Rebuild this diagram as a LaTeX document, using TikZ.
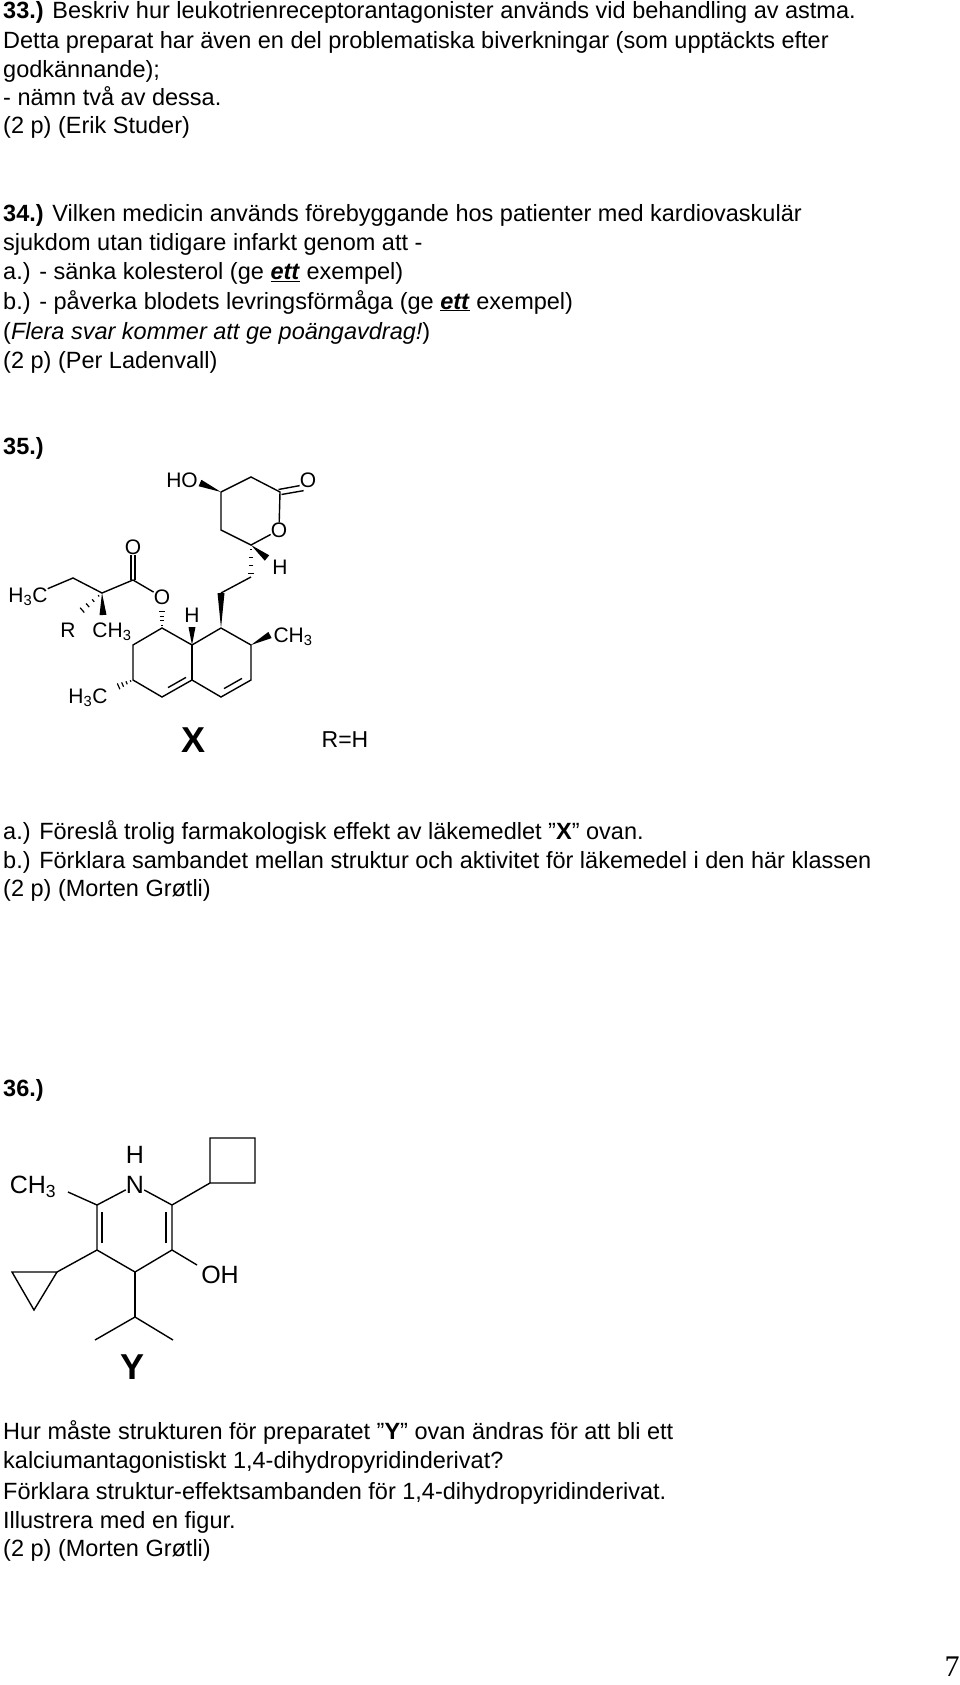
\documentclass[tikz,border=0pt]{standalone}
\usepackage{fontspec}
\setmainfont{Liberation Sans}
\newfontfamily\pagefont{Liberation Serif}
\usetikzlibrary{calc}

\newcommand{\wedgebond}[2]{\fill (#1) -- ($(#2)!3.5pt!90:(#1)$) -- ($(#2)!3.5pt!-90:(#1)$) -- cycle;}
\newcommand{\hashbond}[2]{\foreach \t/\w in {0.15/0.8,0.4/1.6,0.65/2.4,0.9/3.2}
  \draw[line width=1.2pt] ($(#1)!\t!(#2)!\w pt!90:(#2)$) -- ($(#1)!\t!(#2)!\w pt!-90:(#2)$);}

\tikzset{
  line/.style={anchor=west, inner sep=0pt, text height=17pt, text depth=5pt, font=\fontsize{23.5}{28}\selectfont},
  atom/.style={inner sep=0pt, font=\fontsize{21}{24}\selectfont},
  bond/.style={line width=1.4pt},
  letter/.style={inner sep=0pt, font=\fontsize{36}{40}\selectfont\bfseries}
}

\begin{document}
\begin{tikzpicture}[x=1pt, y=-1pt]
	\useasboundingbox (0,0) rectangle (960,1685);

	% question 33
	\node[line] (q33a) at (3,13) {\textbf{33.)} Beskriv hur leukotrienreceptorantagonister används vid behandling av astma.};
	\node[line] (q33b) at (3,43) {Detta preparat har även en del problematiska biverkningar (som upptäckts efter};
	\node[line] (q33c) at (3,72) {godkännande);};
	\node[line] (q33d) at (3,100) {- nämn två av dessa.};
	\node[line] (q33e) at (3,128) {(2 p) (Erik Studer)};

	% question 34
	\node[line] (q34a) at (3,216) {\textbf{34.)} Vilken medicin används förebyggande hos patienter med kardiovaskulär};
	\node[line] (q34b) at (3,245) {sjukdom utan tidigare infarkt genom att -};
	\node[line] (q34c) at (3,274) {a.) - sänka kolesterol (ge \underline{\textbf{\textit{ett}}} exempel)};
	\node[line] (q34d) at (3,303) {b.) - påverka blodets levringsförmåga (ge \underline{\textbf{\textit{ett}}} exempel)};
	\node[line] (q34e) at (3,333) {(\textit{Flera svar kommer att ge poängavdrag!})};
	\node[line] (q34f) at (3,362) {(2 p) (Per Ladenvall)};

	% question 35
	\node[line] (q35) at (3,448) {\textbf{35.)}};

	\coordinate (L1) at (221,492);
	\coordinate (L2) at (251,477);
	\coordinate (L3) at (280,492);
	\coordinate (L5) at (221,530);
	\coordinate (L6) at (251,545);
	\node[atom] (ho) at (182,480) {HO};
	\node[atom] (lo) at (308,480) {O};
	\node[atom] (ro) at (279,530) {O};
	\node[atom] (lh) at (280,567) {H};
	\coordinate (E1) at (251,577);
	\coordinate (E2) at (221,593);

	\coordinate (C1) at (221,628);
	\coordinate (C2) at (251,645);
	\coordinate (C3) at (251,680);
	\coordinate (C4) at (221,697);
	\coordinate (C4a) at (192,680);
	\coordinate (C8a) at (192,645);
	\coordinate (C8) at (162,628);
	\coordinate (C7) at (133,645);
	\coordinate (C6) at (133,680);
	\coordinate (C5) at (162,697);
	\node[atom] (me2) at (293,637) {CH\textsubscript{3}};
	\node[atom] (hh) at (192,615) {H};
	\node[atom] (eo) at (162,597) {O};
	\node[atom] (me6) at (88,698) {H\textsubscript{3}C};

	\coordinate (K) at (133,580);
	\node[atom] (ko) at (133,547) {O};
	\coordinate (Q) at (102,593);
	\coordinate (Q1) at (73,578);
	\node[atom] (et) at (28,597) {H\textsubscript{3}C};
	\node[atom] (qm) at (112,632) {CH\textsubscript{3}};
	\node[atom] (qr) at (68,630) {R};

	% lactone ring
	\draw[bond] (L1) -- (L2) -- (L3) -- (ro) -- (L6) -- (L5) -- (L1);
	\draw[bond] ($(L3)+(-1.5,-2.5)$) -- ($(lo.south west)+(0,-2)$);
	\draw[bond] ($(L3)+(1.5,2.5)$) -- ($(lo.south west)+(4,3)$);
	\wedgebond{L1}{200,483}
	\wedgebond{L6}{267,558}
	\hashbond{L6}{E1}
	\draw[bond] (E1) -- (E2);
	\wedgebond{C1}{E2}

	% decalin
	\draw[bond] (C1) -- (C2) -- (C3) -- (C4) -- (C4a) -- (C5) -- (C6) -- (C7) -- (C8) -- (C8a) -- (C1);
	\draw[bond] (C8a) -- (C4a);
	\draw[bond] ($(C3)!0.2!(C4)+(-3,-5)$) -- ($(C3)!0.8!(C4)+(-3,-5)$);
	\draw[bond] ($(C4a)!0.2!(C5)+(0,-6)$) -- ($(C4a)!0.8!(C5)+(0,-6)$);
	\wedgebond{C2}{270,635}
	\wedgebond{C8a}{192,627}
	\hashbond{C8}{162,610}
	\hashbond{C6}{117,687}

	% ester side chain
	\draw[bond] (eo) -- (K);
	\draw[bond] ($(K)+(-2,0)$) -- ($(ko.south)+(-2,0)$);
	\draw[bond] ($(K)+(2,0)$) -- ($(ko.south)+(2,0)$);
	\draw[bond] (K) -- (Q) -- (Q1) -- (et);
	\wedgebond{Q}{103,615}
	\hashbond{Q}{80,612}

	\node[letter] (xname) at (194,740) {X};
	\node[atom, font=\fontsize{23}{28}\selectfont] (rh) at (345,740) {R=H};

	\node[line] (q35a) at (3,833) {a.) Föreslå trolig farmakologisk effekt av läkemedlet ”\textbf{X}” ovan.};
	\node[line] (q35b) at (3,862) {b.) Förklara sambandet mellan struktur och aktivitet för läkemedel i den här klassen};
	\node[line] (q35c) at (3,890) {(2 p) (Morten Grøtli)};

	% question 36
	\node[line] (q36) at (3,1090) {\textbf{36.)}};

	\node[atom, font=\fontsize{25}{28}\selectfont] (nh) at (135,1155) {H};
	\node[atom, font=\fontsize{25}{28}\selectfont] (n) at (135,1185) {N};
	\coordinate (D2) at (172,1205);
	\coordinate (D3) at (172,1250);
	\coordinate (D4) at (135,1272);
	\coordinate (D5) at (97,1250);
	\coordinate (D6) at (97,1205);
	\node[atom, font=\fontsize{25}{28}\selectfont] (dme) at (33,1187) {CH\textsubscript{3}};
	\node[atom, font=\fontsize{25}{28}\selectfont] (oh) at (220,1275) {OH};
	\coordinate (B1) at (210,1183);
	\coordinate (P1) at (57,1272);
	\coordinate (I0) at (135,1317);

	\draw[bond] (n) -- (D2) -- (D3) -- (D4) -- (D5) -- (D6) -- (n);
	\draw[bond] (102,1212) -- (102,1243);
	\draw[bond] (166,1212) -- (166,1243);
	\draw[bond] (D6) -- (68,1192);
	\draw[bond] (D3) -- (197,1265);
	\draw[bond] (D2) -- (B1) rectangle (255,1138);
	\draw[bond] (D5) -- (P1);
	\draw[bond] (P1) -- (12,1272) -- (34,1310) -- cycle;
	\draw[bond] (D4) -- (I0);
	\draw[bond] (95,1340) -- (I0) -- (173,1340);

	\node[letter] (yname) at (133,1367) {Y};

	\node[line] (q36a) at (3,1433) {Hur måste strukturen för preparatet ”\textbf{Y}” ovan ändras för att bli ett};
	\node[line] (q36b) at (3,1462) {kalciumantagonistiskt 1,4-dihydropyridinderivat?};
	\node[line] (q36c) at (3,1493) {Förklara struktur-effektsambanden för 1,4-dihydropyridinderivat.};
	\node[line] (q36d) at (3,1522) {Illustrera med en figur.};
	\node[line] (q36e) at (3,1550) {(2 p) (Morten Grøtli)};

	\node[inner sep=0pt, font=\pagefont\fontsize{30}{32}\selectfont] (pageno) at (952,1667) {7};
\end{tikzpicture}
\end{document}
